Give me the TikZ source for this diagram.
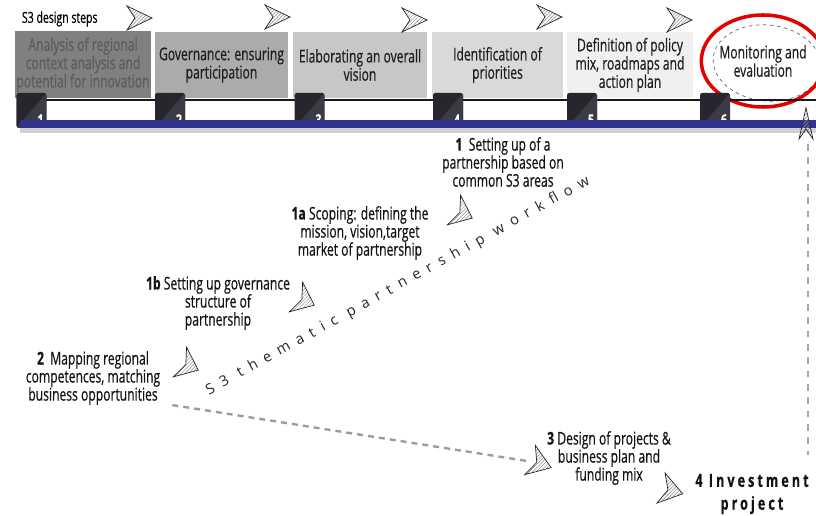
\documentclass[tikz,border=0pt]{standalone}
\usepackage{fontspec}
\setmainfont{Open Sans}[FakeStretch=0.69, FakeBold=0.5]
\newfontfamily\flowfont{Open Sans}[LetterSpace=52]
\usetikzlibrary{positioning, patterns, shapes.geometric}

\definecolor{bar_blue}{HTML}{32338F}
\definecolor{marker_dark}{HTML}{27262F}
\definecolor{marker_light}{HTML}{3B3A47}
\definecolor{dash_gray}{HTML}{9B9B9B}

\tikzstyle{step_box} = [
    rectangle,
    align=center,
    inner sep=0pt,
    minimum height=1.98cm,
    font=\fontsize{15}{15.6}\selectfont,
    text=black!88
]
\tikzstyle{marker} = [
    rectangle,
    rounded corners=2pt,
    fill=marker_dark,
    minimum width=0.9cm,
    minimum height=1.05cm,
    inner sep=0pt,
    path picture={
        \fill[marker_light] (path picture bounding box.south west)
            -- (path picture bounding box.south east)
            -- (path picture bounding box.north east) -- cycle;
    }
]
\tikzstyle{marker_num} = [
    white,
    font=\fontsize{13}{13}\selectfont\bfseries,
    inner sep=0pt
]
\tikzstyle{flow_text} = [
    align=center,
    inner sep=0pt,
    font=\fontsize{15}{15.4}\selectfont,
    text=black!92
]
\tikzstyle{chev_fill} = [
    draw=black!85,
    line width=0.6pt,
    line join=miter,
    pattern=north east lines,
    pattern color=black!45
]

\tikzset{
    chevron/.pic={
        \draw[chev_fill] (0,-12) -- (25,0) -- (0,12) -- (8,0) -- cycle;
    }
}

\begin{document}
\begin{tikzpicture}[x=0.03cm, y=-0.03cm]
\useasboundingbox (0,0) rectangle (816,516);

% design steps
\node [step_box, fill=black!50, text=black!64, minimum width=4.08cm, minimum height=2.01cm] (box1) at (83,64.5)
    {Analysis of regional\\context analysis and\\potential for innovation};
\node [step_box, fill=black!33, minimum width=3.99cm] (box2) at (221.5,65) {Governance: ensuring\\participation};
\node [step_box, fill=black!22, minimum width=4.02cm] (box3) at (360,65) {Elaborating an overall\\vision};
\node [step_box, fill=black!15, minimum width=3.93cm] (box4) at (497.5,65) {Identification of\\priorities};
\node [step_box, fill=black!6, minimum width=3.78cm] (box5) at (630,65) {Definition of policy\\mix, roadmaps and\\action plan};
\draw [dashed, black!60, line width=0.6pt, rotate around={-6:(767,63)}] (767,63) ellipse [x radius=1.62cm, y radius=1.14cm];
\node [step_box, ellipse, draw=red!90!black, line width=3pt, minimum width=3.6cm, minimum height=2.76cm] (box6) at (763,61)
    {Monitoring and\\evaluation};

\node [font=\fontsize{13}{14}\selectfont, inner sep=0pt, above right=0.12cm and 0.21cm of box1.north west] (title) {S3 design steps};

% time line
\coordinate (line_start) at (17,100);
\coordinate (line_end) at (816,100);
\coordinate (bar_start) at (20,124);
\coordinate (bar_end) at (816,124);
\draw [black!90, line width=1.6pt] (line_start) -- (line_end);
\draw [black!18, line width=4pt] ([yshift=-0.2cm]bar_start) -- ([yshift=-0.2cm]bar_end);

\node [marker] (m1) at (31.5,110.5) {};
\node [marker] (m2) at (170,110.5) {};
\node [marker] (m3) at (309.5,110.5) {};
\node [marker] (m4) at (448,110.5) {};
\node [marker] (m5) at (582,110.5) {};
\node [marker] (m6) at (715,110.5) {};
\node [marker_num, above left=0.08cm and 0.09cm of m1.south east] {1};
\node [marker_num, above left=0.08cm and 0.09cm of m2.south east] {2};
\node [marker_num, above left=0.08cm and 0.09cm of m3.south east] {3};
\node [marker_num, above left=0.08cm and 0.09cm of m4.south east] {4};
\node [marker_num, above left=0.08cm and 0.09cm of m5.south east] {5};
\node [marker_num, above left=0.08cm and 0.09cm of m6.south east] {6};

\draw [bar_blue, line width=6pt] (bar_start) -- (bar_end);

% step arrows
\pic at (127,18) {chevron};
\pic at (265,17) {chevron};
\pic at (402,20) {chevron};
\pic at (537,17) {chevron};
\pic at (667,20) {chevron};
\pic [rotate=90, xscale=1.25, yscale=0.58] at (806,139) {chevron};

% partnership workflow
\node [flow_text] (s1) at (503,162) {\textbf{1}\ \ Setting up of a\\partnership based on\\common S3 areas};
\node [flow_text] (s1a) at (360,233) {\textbf{1a} Scoping: defining the\\mission, vision,target\\market of partnership};
\node [flow_text] (s1b) at (218,303) {\textbf{1b} Setting up governance\\structure of\\partnership};
\node [flow_text] (s2) at (93,378) {\textbf{2}\ \ Mapping regional\\competences, matching\\business opportunities};
\node [flow_text] (s3) at (609,458) {\textbf{3} Design of projects \&\\business plan and\\funding mix};
\node [flow_text, font=\fontsize{15.5}{19.5}\selectfont\bfseries\addfontfeature{LetterSpace=17}] (s4) at (752,494)
    {4 Investment\\project};

\pic [rotate=-24, xscale=0.8, yscale=1.35] at (454,210) {chevron};
\pic [rotate=-24, xscale=0.8, yscale=1.35] at (296,297) {chevron};
\pic [rotate=-24, xscale=0.8, yscale=1.35] at (180,362) {chevron};
\pic [rotate=-20, xscale=0.9, yscale=1.3] at (530,460) {chevron};
\pic [rotate=-15, xscale=0.9, yscale=1.3] at (661,488) {chevron};

\node [rotate=29, inner sep=0pt, font=\flowfont\fontsize{12.5}{14}\selectfont, text=black!85] (workflow) at (398,286)
    {S3 thematic partnership workflow};

% dashed links
\coordinate (flow_start) at ([xshift=0.36cm]s2.south east);
\coordinate (flow_end) at (527,461);
\coordinate (mon_top) at (808,144);
\coordinate (mon_bottom) at (808,455);
\draw [dash_gray, line width=2pt, dash pattern=on 0.18cm off 0.15cm] (flow_start) -- (flow_end);
\draw [black!35, line width=1.2pt, dash pattern=on 0.2cm off 0.2cm] (mon_top) -- (mon_bottom);
\end{tikzpicture}
\end{document}
